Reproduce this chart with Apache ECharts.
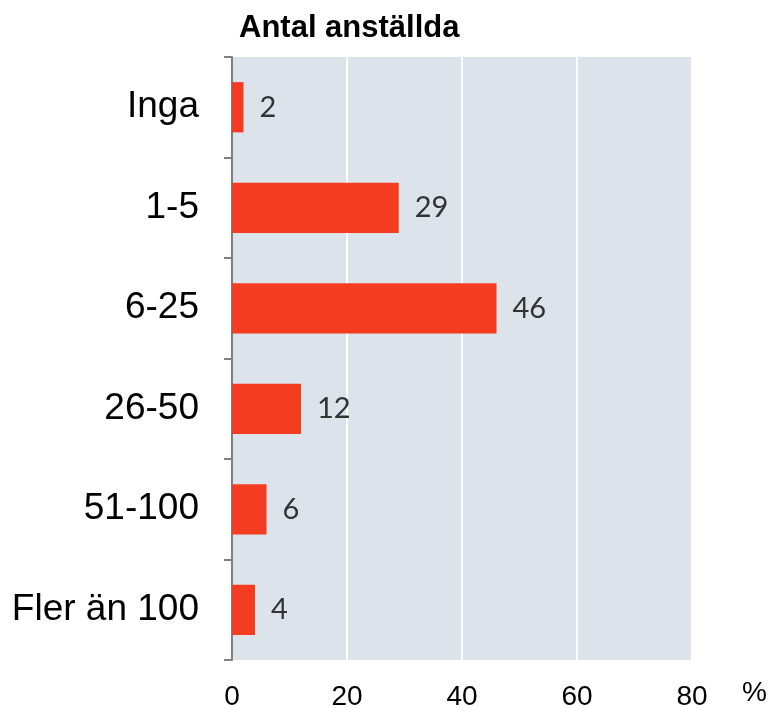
<!DOCTYPE html>
<html><head><meta charset="utf-8">
<script src="https://cdn.jsdelivr.net/npm/echarts@6/dist/echarts.min.js"></script>
<style>html,body{margin:0;padding:0;background:#fff}#c{width:771px;height:708px}</style>
</head><body><div id="c"></div>
<script>
const categories = ["Inga", "1-5", "6-25", "26-50", "51-100", "Fler än 100"];
const values = [2, 29, 46, 12, 6, 4];
const xTicks = [0, 20, 40, 60, 80];
const titleText = "Antal anställda";
const unitText = "%";

const chart = echarts.init(document.getElementById('c'), null, {renderer: 'canvas'});
chart.setOption({
  animation: false,
  title: {
    text: titleText, left: 234, top: 8,
    textStyle: {fontFamily: 'Liberation Sans, Arial', fontWeight: 'bold', fontSize: 31, color: '#000'}
  },
  grid: {left: 232, right: 79, top: 57, bottom: 48, show: true, backgroundColor: '#DDE3EA', borderWidth: 0,
         containLabel: false, outerBoundsMode: 'none'},
  xAxis: {
    type: 'value', min: xTicks[0], max: xTicks[xTicks.length - 1], interval: 20,
    name: unitText, nameLocation: 'end', nameGap: 50,
    nameTextStyle: {fontFamily: 'Liberation Sans, Arial', fontSize: 28, color: '#000', verticalAlign: 'top', padding: [19, 0, 0, 0]},
    axisLine: {show: false}, axisTick: {show: false},
    axisLabel: {margin: 23, fontFamily: 'Liberation Sans, Arial', fontSize: 28, color: '#000'},
    splitLine: {show: true, lineStyle: {color: '#ffffff', width: 2}}
  },
  yAxis: {
    type: 'category', data: categories, inverse: true,
    axisLine: {show: true, lineStyle: {color: '#808080', width: 2}},
    axisTick: {show: true, length: 8, lineStyle: {color: '#808080', width: 2}},
    axisLabel: {margin: 33, fontFamily: 'Liberation Sans, Arial', fontSize: 37, color: '#000'}
  },
  series: [{
    type: 'bar', data: values, barWidth: '50%',
    itemStyle: {color: '#F43C20'},
    label: {show: true, position: 'right', distance: 16, fontFamily: 'Lato, Noto Sans', fontSize: 29, color: '#333333'}
  }]
});
</script></body></html>
